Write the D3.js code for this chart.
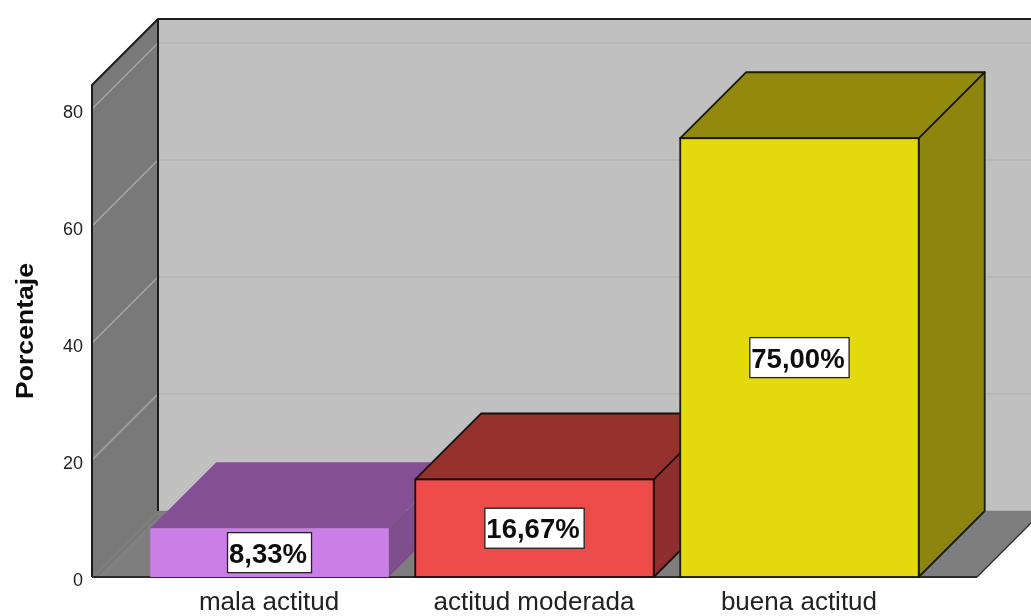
<!DOCTYPE html>
<html><head><meta charset="utf-8"><style>html,body{margin:0;padding:0;background:#fff}svg{display:block}</style>
<script src="https://cdn.jsdelivr.net/npm/d3@7"></script></head><body><div id="c"></div><script>
const categories=["mala actitud","actitud moderada","buena actitud"];
const values=[8.33,16.67,75];
const valueLabels=["8,33%","16,67%","75,00%"];
const yTicks=[0,20,40,60,80];
const frontColors=["#cb7fe6","#ee4b4b","#e4d90d"];
const topColors=["#845093","#96302f","#938a09"];
const sideColors=["#7f4f8d","#8f2d2e","#8d8508"];
const strokeColors=["none","#1a1010","#1a1a05"];
const yTitle="Porcentaje";

const W=1031,H=616,D=66,F="'Liberation Sans',Arial,sans-serif";
const left=92,right=977,base=577;
const y=d3.scaleLinear().domain([0,84.1]).range([base,85]);
const x=d3.scaleBand().domain(categories).range([left,right]).paddingInner(0.1).paddingOuter(0.22);
const svg0=d3.select("#c").append("svg").attr("width",W).attr("height",H);
svg0.append("defs").append("filter").attr("id","soft").attr("x",0).attr("y",0).attr("width","100%").attr("height","100%")
  .append("feGaussianBlur").attr("stdDeviation",0.45);
const svg=svg0.append("g").attr("filter","url(#soft)");
svg.append("rect").attr("width",W).attr("height",H).attr("fill","#fff");
const poly=(pts)=>pts.map(p=>p.join(",")).join(" ");
const top0=y(y.domain()[1]);

// walls
svg.append("rect").attr("x",left+D).attr("y",top0-D).attr("width",W-left-D).attr("height",base-top0).attr("fill","#c0c0c0");
svg.append("polygon").attr("points",poly([[left,base],[left,top0],[left+D,top0-D],[left+D,base-D]])).attr("fill","#797979").attr("stroke","#797979");
svg.append("polygon").attr("points",poly([[left,base],[left+D,base-D],[right+D,base-D],[right,base]])).attr("fill","#7e7e7e").attr("stroke","#7e7e7e").attr("stroke-width",0.5);
svg.append("line").attr("x1",left+4).attr("y1",base).attr("x2",left+D).attr("y2",base-D+4).attr("stroke","#6e6e6e").attr("stroke-width",1);

// gridlines
yTicks.filter(d=>d>0).forEach(d=>{
  svg.append("line").attr("x1",left).attr("y1",y(d)).attr("x2",left+D).attr("y2",y(d)-D).attr("stroke","#a6a6a6").attr("stroke-width",1.5);
  svg.append("line").attr("x1",left+D).attr("y1",y(d)-D).attr("x2",W).attr("y2",y(d)-D).attr("stroke","#b4b4b4").attr("stroke-width",1.5);
});

// frame
const edge=(pts,c="#1c1c1c",w=2)=>svg.append("polyline").attr("points",poly(pts)).attr("fill","none").attr("stroke",c).attr("stroke-width",w).attr("stroke-linejoin","round");
edge([[left,base],[left,top0],[left+D,top0-D],[W,top0-D]]);
edge([[left+D,top0-D],[left+D,base-D]]);
edge([[left,base],[right,base]],"#2a2a2a",2);
edge([[right,base],[right+D,base-D]],"#333",1.5);

// bars
categories.forEach((c,i)=>{
  const x0=x(c),x1=x0+x.bandwidth(),yt=y(values[i]);
  const s=strokeColors[i],sw=s==="none"?0:1.8;
  const g=svg.append("g");
  g.append("polygon").attr("points",poly([[x1,yt],[x1+D,yt-D],[x1+D,base-D],[x1,base]])).attr("fill",sideColors[i]).attr("stroke",s).attr("stroke-width",sw).attr("stroke-linejoin","round");
  g.append("polygon").attr("points",poly([[x0,yt],[x0+D,yt-D],[x1+D,yt-D],[x1,yt]])).attr("fill",topColors[i]).attr("stroke",s).attr("stroke-width",sw).attr("stroke-linejoin","round");
  g.append("rect").attr("x",x0).attr("y",yt).attr("width",x.bandwidth()).attr("height",base-yt).attr("fill",frontColors[i]).attr("stroke",s).attr("stroke-width",sw);
});

// value labels
categories.forEach((c,i)=>{
  const cx=x(c)+x.bandwidth()/2,cy=y(values[i]/2);
  const g=svg.append("g");
  const t=g.append("text").attr("x",cx-1.5).attr("y",cy).attr("dy","0.36em").attr("text-anchor","middle")
    .attr("font-family",F).attr("font-weight","bold").attr("font-size",27.5).attr("fill","#111").text(valueLabels[i]);
  const w=t.node().getComputedTextLength()+6;
  g.insert("rect","text").attr("x",cx-w/2).attr("y",cy-20).attr("width",w).attr("height",40).attr("fill","#fff").attr("stroke","#222").attr("stroke-width",1.3);
});

// axes
const ay=svg.append("g").attr("transform",`translate(${left},2.5)`).call(d3.axisLeft(y).tickValues(yTicks).tickSize(0).tickPadding(9));
ay.select(".domain").remove();
ay.selectAll("text").attr("font-family",F).attr("font-size",18).attr("fill","#222");
const ax=svg.append("g").attr("transform",`translate(0,${base})`).call(d3.axisBottom(x).tickSize(0).tickPadding(15));
ax.select(".domain").remove();
ax.selectAll("text").attr("font-family",F).attr("font-size",26).attr("fill","#222");
ax.selectAll(".tick").attr("transform",d=>`translate(${x(d)+x.bandwidth()/2-0.5},0)`);
svg.append("text").attr("transform","translate(33,331) rotate(-90)").attr("text-anchor","middle")
  .attr("font-family",F).attr("font-weight","bold").attr("font-size",24).attr("textLength",136).attr("lengthAdjust","spacingAndGlyphs").attr("fill","#111").text(yTitle);
</script></body></html>
